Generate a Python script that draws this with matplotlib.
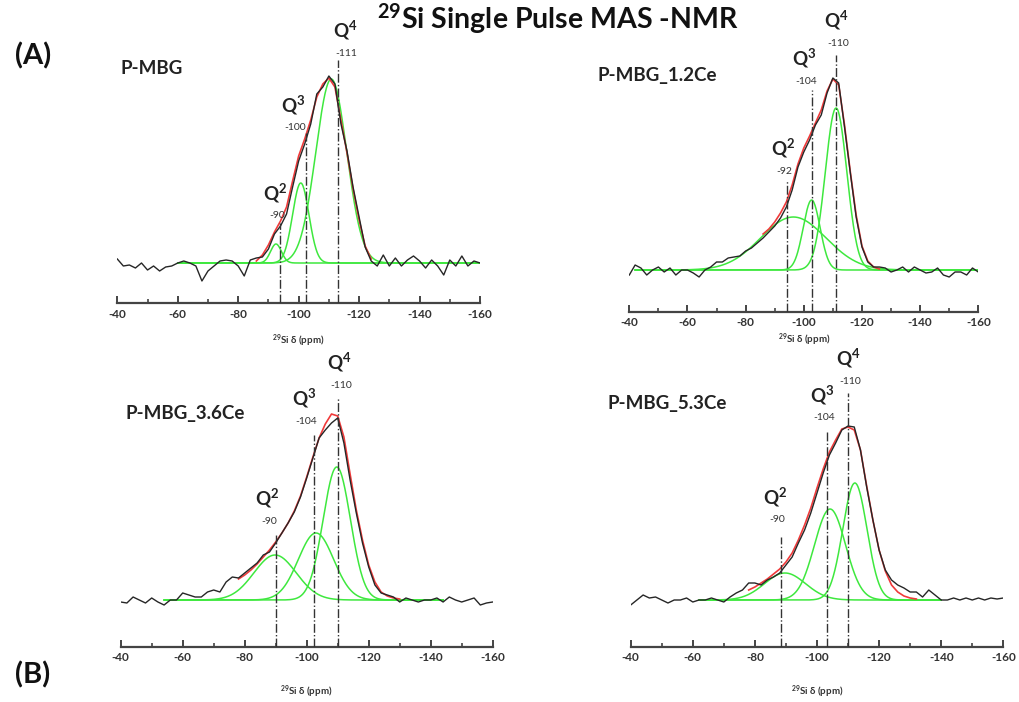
import numpy as np
import matplotlib
matplotlib.use("Agg")
import matplotlib.pyplot as plt
from matplotlib.ticker import MultipleLocator

plt.rcParams['font.family'] = ['Lato', 'DejaVu Sans']
plt.rcParams['axes.unicode_minus'] = False
plt.rcParams['mathtext.fontset'] = 'custom'
plt.rcParams['mathtext.rm'] = 'Lato'
plt.rcParams['mathtext.bf'] = 'Lato:bold'
plt.rcParams['mathtext.default'] = 'bf'

# ---------------- data ----------------
ppm = np.arange(-40, -161, -2)   # sampling grid of the experimental traces (ppm)

exp_A = [4, -3, -2, -5, 0, -7, -3, -8, -4, -3, 0, 2, 0, -3, -18, -8, -3, 2, 3, 2,
         -3, -13, 3, 5,
         6, 14, 29, 37, 49, 76, 102, 119, 139, 169, 176, 187, 179, 139, 112, 76, 46, 16, 2,
         -3, 8, -3, 5, -3, 3, 7, 2, -5, 3, -3, -12, 3, -3, 7, -3, 2, 0]
exp_B = [-5, 5, 2, -5, 0, 3, -2, 2, -5, 0, 0, -3, -7, 0, 3, 8, 8, 12, 13,
         14, 19, 22, 27, 32, 38, 44, 52, 63, 80, 103, 118, 130, 145, 155, 177, 192, 187, 143,
         97, 53, 23, 8, 3,
         3, 2, -2, 0, 3, -2, 3, 0, -3, -2, 2, -5, -7, -2, -2, -5, 2, -2]
exp_C = [-2, -3, 3, 0, -3, 2, -2, -5, 0, 0, 7, 5, 3, 3,
         8, 10, 8, 18, 23, 22, 27, 32, 37, 45, 48, 57, 67, 77, 88, 103, 122, 142, 162, 170,
         177, 182, 157, 120, 87, 57, 33, 15, 7, 5, 3,
         -2, 2, 0, -2, 0, 0, 2, -2, 3, 0, -2, 0, 2, -5, -3, -2]
exp_D = [-5, 0, 5, 2, 3, 0, -3, 0, 0, 2, -2, 0, 0, 2, 0, -2, 3, 7, 10, 17,
         17, 15, 20, 23, 27, 35, 43, 57, 70, 87, 107, 127, 145, 157, 170, 174, 173, 150, 113,
         80, 50, 30, 20, 15, 12, 8, 8, 3, 10,
         5, 0, 0, 2, 0, 2, 0, 2, 0, 2, 1, 2]

# total fit envelopes (red), read on their own grids
fit_ppm_A = np.arange(-86, -125, -2)
fit_A = [2, 8, 18, 31, 42, 56, 82, 107, 124, 143, 166, 179, 185, 176, 143, 110, 74, 43, 17, 4]
fit_ppm_B = np.arange(-86, -127, -2)
fit_B = [36, 41, 48, 57, 68, 85, 106, 122, 134, 147, 160, 179, 191, 185, 145, 98, 55, 24,
         9, 3, 1]
fit_ppm_C = np.arange(-78, -131, -2)
fit_C = [21, 25, 30, 36, 43, 50, 58, 67, 77, 89, 104, 123, 143, 162, 176, 186, 184, 163,
         126, 90, 60, 35, 18, 8, 4, 2, 1]
fit_ppm_D = np.arange(-78, -133, -2)
fit_D = [10, 13, 17, 21, 26, 31, 38, 47, 60, 75, 92, 112, 131, 148, 160, 171, 173, 170,
         150, 114, 80, 50, 29, 15, 8, 4, 2, 1]

# fitted components (Q2, Q3, Q4): centre (ppm), height, width (ppm)
cen_A = [-92.5, -100.7, -110.8]; hgt_A = [19, 80, 184]; wid_A = [1.8, 2.7, 5.1]
cen_B = [-96.4, -102.7, -111.1]; hgt_B = [53, 70, 162]; wid_B = [11.2, 2.9, 3.7]
cen_C = [-89.8, -103.0, -109.7]; hgt_C = [45, 67, 133]; wid_C = [6.8, 5.7, 4.4]
cen_D = [-89.7, -104.2, -112.2]; hgt_D = [27, 91, 117]; wid_D = [6.6, 5.0, 3.9]
comp_range_A = (-60, -160); comp_range_B = (-42, -160)
comp_range_C = (-54, -144); comp_range_D = (-62, -140)

# marked positions and labels
qnames = ['Q$^2$', 'Q$^3$', 'Q$^4$']
mark_A = [-93.8, -102.4, -112.9]; shift_lbl_A = ['-90', '-100', '-111']
mark_B = [-94.3, -102.7, -111.0]; shift_lbl_B = ['-92', '-104', '-110']
mark_C = [-90.0, -102.5, -110.1]; shift_lbl_C = ['-90', '-104', '-110']
mark_D = [-88.4, -103.1, -110.1]; shift_lbl_D = ['-90', '-104', '-110']
names = ['P-MBG', 'P-MBG_1.2Ce', 'P-MBG_3.6Ce', 'P-MBG_5.3Ce']

# ---------------- layout (pixels) ----------------
W, H = 1019, 702
panels_px = [(117.3, 480.0, 303.0, 263.0),
             (629.3, 978.3, 311.7, 270.0),
             (120.7, 492.7, 646.7, 600.0),
             (630.7, 1003.3, 646.7, 600.0)]
top_px = 2
line_tops = [[40, 130, 203], [90, 180, 215], [65, 165, 202], [63, 168, 207]]
q_pos = [[(-92.2, 70), (-98.1, 158), (-115.3, 233)],
         [(-92.8, 122), (-100.1, 212), (-111.1, 250)],
         [(-87.3, 102), (-99.2, 202), (-110.4, 238)],
         [(-86.5, 103), (-101.8, 205), (-110.0, 242)]]
name_pos = [(-40.9, 195), (-28.9, 195), (-41.4, 187), (-32.4, 197)]
xlabel_off = [-78, -70, -92, -92]

exps = [exp_A, exp_B, exp_C, exp_D]
fits = [(fit_ppm_A, fit_A), (fit_ppm_B, fit_B), (fit_ppm_C, fit_C), (fit_ppm_D, fit_D)]
cens = [cen_A, cen_B, cen_C, cen_D]
hgts = [hgt_A, hgt_B, hgt_C, hgt_D]
wids = [wid_A, wid_B, wid_C, wid_D]
ranges = [comp_range_A, comp_range_B, comp_range_C, comp_range_D]
marks = [mark_A, mark_B, mark_C, mark_D]
shift_lbls = [shift_lbl_A, shift_lbl_B, shift_lbl_C, shift_lbl_D]

fig = plt.figure(figsize=(W / 100, H / 100), dpi=100)

GREEN = '#3ee83e'
RED = '#f03a3a'

for i in range(4):
    l, r, axy, base = panels_px[i]
    ax = fig.add_axes([l / W, 1 - axy / H, (r - l) / W, (axy - top_px) / H])
    ax.set_xlim(-40, -160)
    ax.set_ylim(-(axy - base), base - top_px)
    ax.patch.set_alpha(0)
    for s in ['top', 'right', 'left']:
        ax.spines[s].set_visible(False)
    ax.spines['bottom'].set_color('#444444')
    ax.spines['bottom'].set_linewidth(1.6)
    ax.set_yticks([])
    ax.xaxis.set_major_locator(MultipleLocator(20))
    ax.xaxis.set_minor_locator(MultipleLocator(10))
    ax.tick_params(axis='x', which='major', direction='in', length=5, width=1.4,
                   color='#444444', labelsize=8.5, labelcolor='#333333', pad=4)
    ax.tick_params(axis='x', which='minor', direction='in', length=3, width=1.2,
                   color='#444444')
    for t in ax.get_xticklabels():
        t.set_fontweight('bold')

    # fitted components
    x0, x1 = ranges[i]
    xf = np.linspace(x0, x1, 600)
    for c, h, w in zip(cens[i], hgts[i], wids[i]):
        g = h * np.exp(-0.5 * ((xf - c) / w) ** 2)
        ax.plot(xf, g, color=GREEN, lw=1.1, zorder=2)
    # total fit envelope
    fx, fy = fits[i]
    ax.plot(fx, fy, color=RED, lw=1.2, zorder=2.5)
    # experimental trace
    ax.plot(ppm, exps[i], color='#262626', lw=1.0, zorder=3)

    # marker lines and labels
    for k in range(3):
        ax.plot([marks[i][k], marks[i][k]], [-(axy - base), line_tops[i][k]],
                color='#333333', lw=1.0, ls='-.', zorder=4)
        qx, qy = q_pos[i][k]
        ax.text(qx, qy, qnames[k], ha='center', va='center', fontsize=13.5,
                fontweight='bold', color='#222222')
        ax.text(qx - 0.6, qy - 23, shift_lbls[i][k], ha='center', va='center',
                fontsize=7.5, color='#333333')
    nx, ny = name_pos[i]
    ax.text(nx, ny, names[i], ha='left', va='center', fontsize=13.5,
            fontweight='bold', color='#222222', clip_on=False)
    ax.text(-100, xlabel_off[i], '$^{29}$Si δ (ppm)', ha='center', va='center',
            fontsize=7, fontweight='bold', color='#333333')

fig.text(558 / W, 1 - 19 / H, '$^{29}$Si Single Pulse MAS -NMR', ha='center',
         va='center', fontsize=20.5, fontweight='bold', color='#111111')
fig.text(33 / W, 1 - 56 / H, '(A)', ha='center', va='center', fontsize=21,
         fontweight='bold', color='#111111')
fig.text(33 / W, 1 - 675 / H, '(B)', ha='center', va='center', fontsize=21,
         fontweight='bold', color='#111111')

fig.savefig('out.png', dpi=100)
